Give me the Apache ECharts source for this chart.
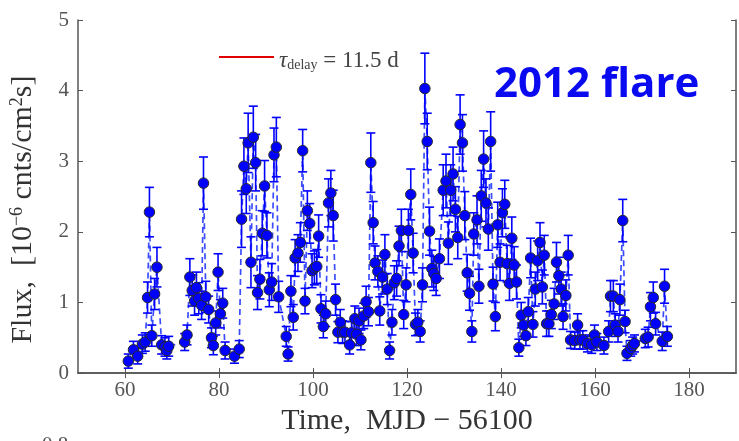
<!DOCTYPE html>
<html>
<head>
<meta charset="utf-8">
<script src="https://cdn.jsdelivr.net/npm/echarts@6/dist/echarts.min.js"></script>
<style>
  html, body { margin: 0; padding: 0; background: #fff; }
  #chart { width: 739px; height: 441px; }
</style>
</head>
<body>
<div id="chart"></div>
<script>
// light curve, MJD - 56100
const times = [
  60.7, 61.8, 62.7, 63.7, 64.3, 64.8, 65.2, 65.7, 66.3, 66.8,
  67.8, 68.5, 68.9, 69.3, 72.7, 73.2, 73.8, 74.3, 74.8, 75.2,
  75.7, 76.3, 76.7, 77.2, 77.8, 78.4, 78.8, 79.3, 79.8, 80.3,
  80.8, 81.3, 83.3, 84.3, 84.8, 85.3, 85.8, 86.2, 86.8, 87.3,
  87.8, 88.2, 88.7, 89.2, 89.7, 90.2, 90.7, 91.2, 91.7, 92.2,
  92.7, 94.3, 94.7, 95.3, 95.8, 96.2, 96.8, 97.3, 97.8, 98.3,
  98.8, 99.3, 99.8, 100.3, 100.8, 101.2, 101.7, 102.2, 102.7, 103.3,
  103.8, 104.3, 104.8, 105.3, 105.8, 106.3, 106.8, 107.8, 108.2, 108.9,
  109.3, 109.8, 110.2, 110.8, 111.3, 111.8, 112.3, 112.8, 113.2, 113.8,
  114.2, 114.8, 115.3, 115.8, 116.3, 116.8, 117.3, 117.8, 118.3, 118.8,
  119.3, 119.8, 120.3, 120.8, 121.3, 121.8, 122.3, 122.8, 123.3, 123.8,
  124.3, 124.8, 125.3, 125.7, 126.2, 126.9, 127.7, 128.3, 128.8, 129.3,
  129.8, 130.3, 130.8, 131.3, 131.8, 132.3, 132.8, 133.3, 133.8, 134.2,
  134.9, 135.3, 135.8, 136.3, 136.8, 137.3, 137.8, 138.3, 138.8, 139.3,
  139.8, 140.3, 140.8, 141.3, 141.8, 142.3, 142.8, 143.3, 143.8, 144.3,
  144.8, 145.3, 145.8, 146.3, 146.8, 147.3, 147.8, 148.3, 148.8, 149.2,
  149.7, 150.2, 150.7, 151.3, 151.8, 152.3, 152.8, 153.2, 153.8, 154.3,
  154.8, 155.7, 156.3, 156.8, 157.4, 158.4, 159.3, 159.9, 160.4, 161.9,
  162.9, 163.3, 163.9, 164.3, 164.9, 165.3, 165.9, 166.4, 166.8, 167.6,
  168.0, 168.4, 170.7, 171.3, 171.8, 172.4, 172.9, 174.3, 174.8, 175.4
];
const flux = [
  0.17, 0.33, 0.24, 0.41, 0.44, 1.07, 2.28, 0.53, 1.12, 1.50,
  0.40, 0.37, 0.32, 0.38, 0.44, 0.54, 1.36, 1.17, 1.02, 1.21,
  1.06, 0.96, 2.69, 1.08, 0.90, 0.50, 0.39, 0.71, 1.43, 0.84,
  0.99, 0.32, 0.24, 0.34, 2.18, 2.93, 2.61, 3.26, 1.57, 3.34,
  2.98, 1.14, 1.33, 1.98, 2.65, 1.95, 1.18, 1.29, 3.09, 3.20,
  1.08, 0.52, 0.27, 1.16, 0.79, 1.63, 1.70, 1.85, 3.15, 1.02,
  2.30, 2.12, 1.45, 1.49, 1.51, 1.94, 0.91, 0.66, 0.84, 2.41,
  2.55, 2.23, 1.04, 0.58, 0.72, 0.58, 0.58, 0.40, 0.57, 0.77,
  0.55, 0.74, 0.47, 0.81, 1.01, 0.87, 2.98, 2.13, 1.56, 1.44,
  0.88, 1.36, 1.68, 1.19, 0.32, 0.72, 1.28, 1.34, 1.80, 2.02,
  0.83, 1.25, 2.02, 2.53, 1.70, 0.69, 0.72, 0.59, 1.25, 4.03,
  3.28, 2.01, 1.48, 1.41, 1.34, 1.62, 2.59, 2.72, 1.84, 2.59,
  2.82, 2.32, 1.92, 3.52, 3.26, 2.23, 1.42, 1.13, 0.59, 1.97,
  2.17, 1.23, 2.51, 3.03, 2.41, 2.04, 3.28, 1.26, 0.80, 2.10,
  1.57, 2.27, 2.39, 1.55, 1.27, 1.91, 1.53, 1.29, 0.36, 0.82,
  0.68, 0.53, 0.87, 1.63, 0.69, 1.19, 1.59, 1.85, 1.22, 1.67,
  0.70, 0.70, 0.83, 0.98, 1.57, 1.38, 1.19, 0.80, 1.10, 1.67,
  0.47, 0.46, 0.68, 0.47, 0.47, 0.42, 0.40, 0.54, 0.44, 0.39,
  0.59, 1.09, 1.09, 0.68, 0.59, 1.04, 2.16, 0.73, 0.28, 0.35,
  0.39, 0.42, 0.49, 0.51, 0.94, 1.07, 0.70, 0.45, 1.23, 0.52
];
const fluxErr = [
  0.10, 0.12, 0.11, 0.13, 0.13, 0.22, 0.35, 0.15, 0.22, 0.28,
  0.13, 0.13, 0.12, 0.14, 0.12, 0.14, 0.26, 0.22, 0.20, 0.22,
  0.22, 0.20, 0.37, 0.22, 0.19, 0.14, 0.13, 0.17, 0.26, 0.20,
  0.21, 0.12, 0.10, 0.12, 0.40, 0.40, 0.35, 0.42, 0.36, 0.44,
  0.40, 0.24, 0.28, 0.32, 0.36, 0.32, 0.24, 0.26, 0.38, 0.42,
  0.22, 0.14, 0.10, 0.22, 0.18, 0.26, 0.26, 0.28, 0.30, 0.18,
  0.28, 0.28, 0.24, 0.24, 0.24, 0.30, 0.20, 0.16, 0.18, 0.34,
  0.32, 0.36, 0.22, 0.15, 0.18, 0.16, 0.15, 0.13, 0.16, 0.18,
  0.16, 0.18, 0.14, 0.18, 0.22, 0.20, 0.42, 0.30, 0.24, 0.22,
  0.20, 0.24, 0.28, 0.22, 0.12, 0.18, 0.24, 0.25, 0.28, 0.30,
  0.20, 0.24, 0.30, 0.36, 0.28, 0.16, 0.18, 0.15, 0.24, 0.50,
  0.40, 0.34, 0.26, 0.24, 0.24, 0.28, 0.36, 0.38, 0.30, 0.36,
  0.38, 0.32, 0.30, 0.42, 0.40, 0.34, 0.26, 0.24, 0.15, 0.30,
  0.34, 0.24, 0.36, 0.40, 0.34, 0.30, 0.42, 0.24, 0.20, 0.32,
  0.26, 0.34, 0.34, 0.26, 0.24, 0.30, 0.26, 0.24, 0.12, 0.18,
  0.16, 0.14, 0.20, 0.28, 0.18, 0.24, 0.28, 0.28, 0.24, 0.28,
  0.18, 0.18, 0.20, 0.22, 0.28, 0.26, 0.24, 0.18, 0.22, 0.28,
  0.12, 0.12, 0.16, 0.13, 0.13, 0.12, 0.12, 0.14, 0.12, 0.12,
  0.15, 0.22, 0.22, 0.16, 0.15, 0.22, 0.30, 0.16, 0.10, 0.11,
  0.12, 0.12, 0.13, 0.14, 0.20, 0.22, 0.16, 0.13, 0.24, 0.14
];
const xTicks = [60, 80, 100, 120, 140, 160, 180];
const legendLabel = 'τ_delay = 11.5 d';
const flareLabel = '2012 flare';

const serif = '"Liberation Serif", "DejaVu Serif", serif';
const axisGray = '#555';

const chart = echarts.init(document.getElementById('chart'));

const points = times.map((t, i) => [t, flux[i], fluxErr[i]]);

const option = {
  animation: false,
  grid: { left: 77, right: 3, top: 20, bottom: 64 },
  legend: {
    data: [legendLabel],
    left: 214,
    top: 44,
    icon: 'rect',
    itemWidth: 55,
    itemHeight: 2,
    itemGap: 6,
    formatter: () => '{t|τ}{s|delay}{e| = 11.5 d}',
    textStyle: {
      color: '#444',
      fontFamily: serif,
      rich: {
        t: { fontSize: 23, fontStyle: 'italic', fontFamily: serif, color: '#444', verticalAlign: 'bottom', lineHeight: 30 },
        s: { fontSize: 14, fontFamily: serif, color: '#444', verticalAlign: 'bottom', lineHeight: 22 },
        e: { fontSize: 23, fontFamily: serif, color: '#444', verticalAlign: 'bottom', lineHeight: 30 }
      }
    }
  },
  graphic: [
    {
      type: 'text',
      left: 494,
      top: 64,
      style: {
        text: flareLabel,
        fill: '#0a0af0',
        font: 'bold 42px "Open Sans", "Noto Sans", sans-serif'
      }
    },
    {
      type: 'text',
      left: 42,
      top: 435,
      style: {
        text: '0.8',
        fill: axisGray,
        font: '21px ' + serif
      }
    }
  ],
  xAxis: [
    {
      type: 'value',
      min: 50,
      max: 190,
      position: 'bottom',
      name: 'Time,  MJD − 56100',
      nameLocation: 'middle',
      nameGap: 32,
      nameTextStyle: { fontFamily: serif, fontSize: 30, color: '#333' },
      axisLine: { show: true, lineStyle: { color: axisGray, width: 1.5 } },
      axisTick: { show: true, inside: true, length: 5, customValues: xTicks, lineStyle: { color: axisGray } },
      axisLabel: { customValues: xTicks, fontFamily: serif, fontSize: 21, color: axisGray, margin: 7 },
      splitLine: { show: false }
    },
    {
      type: 'value',
      min: 50,
      max: 190,
      position: 'top',
      axisLine: { show: true, lineStyle: { color: axisGray, width: 1.5 } },
      axisTick: { show: true, inside: true, length: 5, customValues: xTicks, lineStyle: { color: axisGray } },
      axisLabel: { show: false },
      splitLine: { show: false }
    }
  ],
  yAxis: [
    {
      type: 'value',
      min: 0,
      max: 5,
      interval: 1,
      position: 'left',
      name: 'Flux,  [10{sup|−6} cnts/cm{sup|2}s]{gap| }',
      nameLocation: 'middle',
      nameGap: 40,
      nameRotate: 90,
      nameTextStyle: {
        fontFamily: serif, fontSize: 30, color: '#333',
        rich: {
          sup: { fontFamily: serif, fontSize: 18, color: '#333', verticalAlign: 'top', lineHeight: 30 },
          gap: { width: 26 }
        }
      },
      axisLine: { show: true, lineStyle: { color: axisGray, width: 1.5 } },
      axisTick: { show: true, inside: true, length: 5, lineStyle: { color: axisGray } },
      axisLabel: { fontFamily: serif, fontSize: 21, color: axisGray, margin: 9 },
      splitLine: { show: false }
    },
    {
      type: 'value',
      min: 0,
      max: 5,
      interval: 1,
      position: 'right',
      axisLine: { show: true, lineStyle: { color: axisGray, width: 1.5 } },
      axisTick: { show: true, inside: true, length: 5, lineStyle: { color: axisGray } },
      axisLabel: { show: false },
      splitLine: { show: false }
    }
  ],
  series: [
    {
      // dashed trace through the points
      type: 'line',
      data: times.map((t, i) => [t, flux[i]]),
      symbol: 'none',
      lineStyle: { color: 'rgba(25, 45, 255, 0.85)', width: 1.7, type: [6, 4] },
      silent: true,
      z: 1
    },
    {
      // error bars
      type: 'custom',
      data: points,
      encode: { x: 0, y: 1 },
      renderItem: (params, api) => {
        const x = api.value(0);
        const y = api.value(1);
        const e = api.value(2);
        const hi = api.coord([x, y + e]);
        const lo = api.coord([x, Math.max(0, y - e)]);
        const hw = 4.5;
        const style = { stroke: '#0000ff', lineWidth: 1.6 };
        return {
          type: 'group',
          children: [
            { type: 'line', shape: { x1: hi[0], y1: hi[1], x2: lo[0], y2: lo[1] }, style },
            { type: 'line', shape: { x1: hi[0] - hw, y1: hi[1], x2: hi[0] + hw, y2: hi[1] }, style },
            { type: 'line', shape: { x1: lo[0] - hw, y1: lo[1], x2: lo[0] + hw, y2: lo[1] }, style }
          ]
        };
      },
      silent: true,
      z: 2
    },
    {
      type: 'scatter',
      data: times.map((t, i) => [t, flux[i]]),
      symbol: 'circle',
      symbolSize: 10.5,
      itemStyle: { color: '#0000ff', borderColor: '#2a2a2a', borderWidth: 1, opacity: 1 },
      z: 3
    },
    {
      // legend-only entry
      name: legendLabel,
      type: 'line',
      data: [],
      color: '#e00000',
      lineStyle: { color: '#e00000' }
    }
  ]
};

chart.setOption(option);
</script>
</body>
</html>
